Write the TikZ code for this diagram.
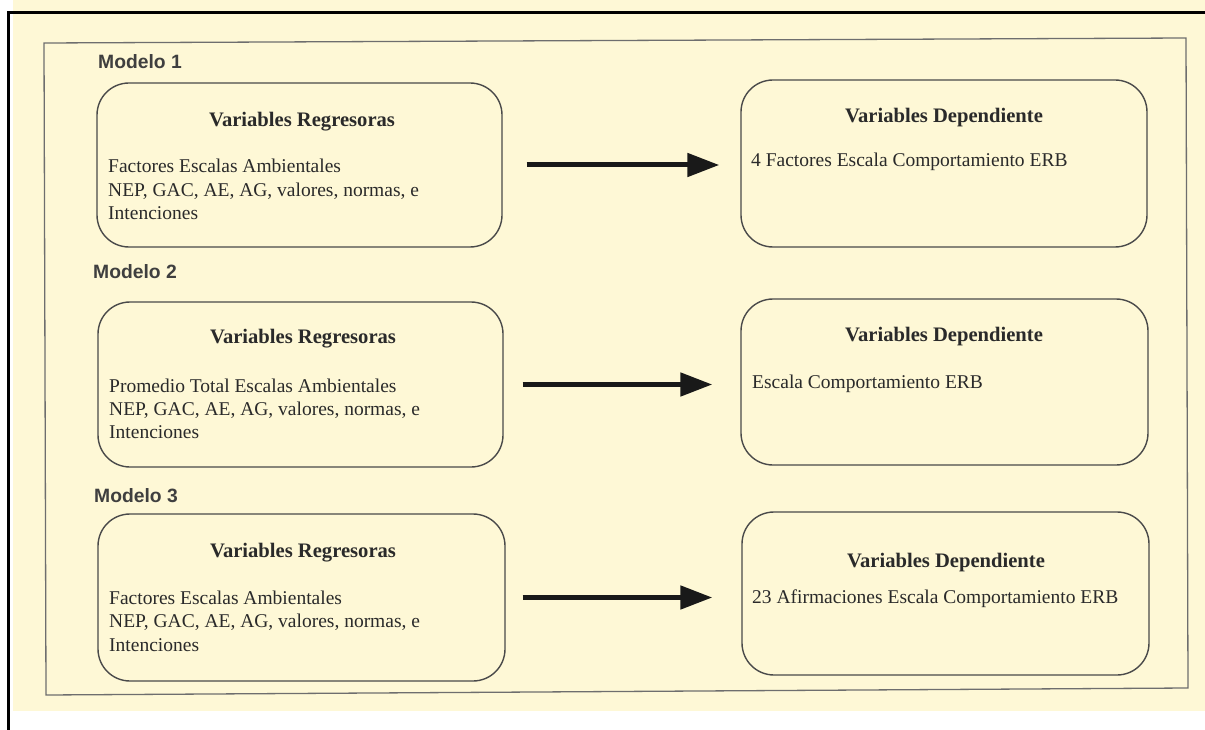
\documentclass[tikz,border=0pt]{standalone}
\usepackage{fontspec}
\setmainfont{Liberation Serif}
\setsansfont{Liberation Sans}
\usetikzlibrary{arrows.meta,calc}
\definecolor{cream}{HTML}{FEF8D6}
\definecolor{ink}{HTML}{2A2A2A}
\definecolor{boxline}{HTML}{4A4A4A}
\definecolor{frameline}{HTML}{6E6E6E}
\tikzset{
  vbox/.style={draw=boxline, line width=1.4pt, rounded corners=32pt, inner sep=0pt},
  ttl/.style={font=\fontsize{20.6}{24}\selectfont\bfseries, text=ink, anchor=base, inner sep=0pt},
  body/.style={font=\fontsize{19.5}{23.5}\selectfont, text=ink, anchor=base west, inner sep=0pt},
  mlabel/.style={font=\sffamily\bfseries\fontsize{19.3}{22}\selectfont, text=ink!90, anchor=base west, inner sep=0pt},
  arr/.style={line width=5pt, draw=black!90, -{Triangle[length=32pt,width=23pt]}}
}
\begin{document}
\begin{tikzpicture}[x=1pt,y=-1pt]
\useasboundingbox (0,0) rectangle (1205,730);
\fill[white] (0,0) rectangle (1205,730);
\fill[cream] (13,0) rectangle (1205,711);
% black frame
\draw[line width=3pt, black] (8.5,730) -- (8.5,13) -- (1205,13);
% inner frame (slightly skewed scan)
\draw[frameline, line width=1.3pt] (44,43) -- (1186,38) -- (1188,688) -- (46,695) -- cycle;

% Modelo 1
\node[mlabel] (m1) at (98,69) {Modelo 1};
\node[vbox, minimum width=405pt, minimum height=164pt] (L1) at (299.5,165) {};
\node[vbox, minimum width=406pt, minimum height=167pt] (R1) at (944,163.5) {};
\node[ttl] (L1t) at (302,127) {Variables Regresoras};
\node[body] (L1a) at (108,173) {Factores Escalas Ambientales};
\node[body] (L1b) at (108,197) {NEP, GAC, AE, AG, valores, normas, e};
\node[body] (L1c) at (108,220) {Intenciones};
\node[ttl] (R1t) at (944,123) {Variables Dependiente};
\node[body] (R1a) at (751,167) {4 Factores Escala Comportamiento ERB};
\draw[arr] ([xshift=24pt]L1.east) -- ($(L1.east -| R1.west)+(-21,0)$);

% Modelo 2
\node[mlabel] (m2) at (93,278) {Modelo 2};
\node[vbox, minimum width=405pt, minimum height=165pt] (L2) at (300.5,384.5) {};
\node[vbox, minimum width=407pt, minimum height=166pt] (R2) at (944.5,382) {};
\node[ttl] (L2t) at (303,343) {Variables Regresoras};
\node[body] (L2a) at (109,392) {Promedio Total Escalas Ambientales};
\node[body] (L2b) at (109,415) {NEP, GAC, AE, AG, valores, normas, e};
\node[body] (L2c) at (109,438) {Intenciones};
\node[ttl] (R2t) at (944,341) {Variables Dependiente};
\node[body] (R2a) at (752,388) {Escala Comportamiento ERB};
\draw[arr] ([xshift=19pt]L2.east) -- ($(L2.east -| R2.west)+(-28,0)$);

% Modelo 3
\node[mlabel] (m3) at (94,502) {Modelo 3};
\node[vbox, minimum width=407pt, minimum height=167pt] (L3) at (301.5,597.5) {};
\node[vbox, minimum width=407pt, minimum height=163pt] (R3) at (945.5,593.5) {};
\node[ttl] (L3t) at (303,557) {Variables Regresoras};
\node[body] (L3a) at (109,604) {Factores Escalas Ambientales};
\node[body] (L3b) at (109,627) {NEP, GAC, AE, AG, valores, normas, e};
\node[body] (L3c) at (109,651) {Intenciones};
\node[ttl] (R3t) at (946,567) {Variables Dependiente};
\node[body] (R3a) at (752,603) {23 Afirmaciones Escala Comportamiento ERB};
\draw[arr] ([xshift=17pt]L3.east) -- ($(L3.east -| R3.west)+(-29,0)$);
\end{tikzpicture}
\end{document}
